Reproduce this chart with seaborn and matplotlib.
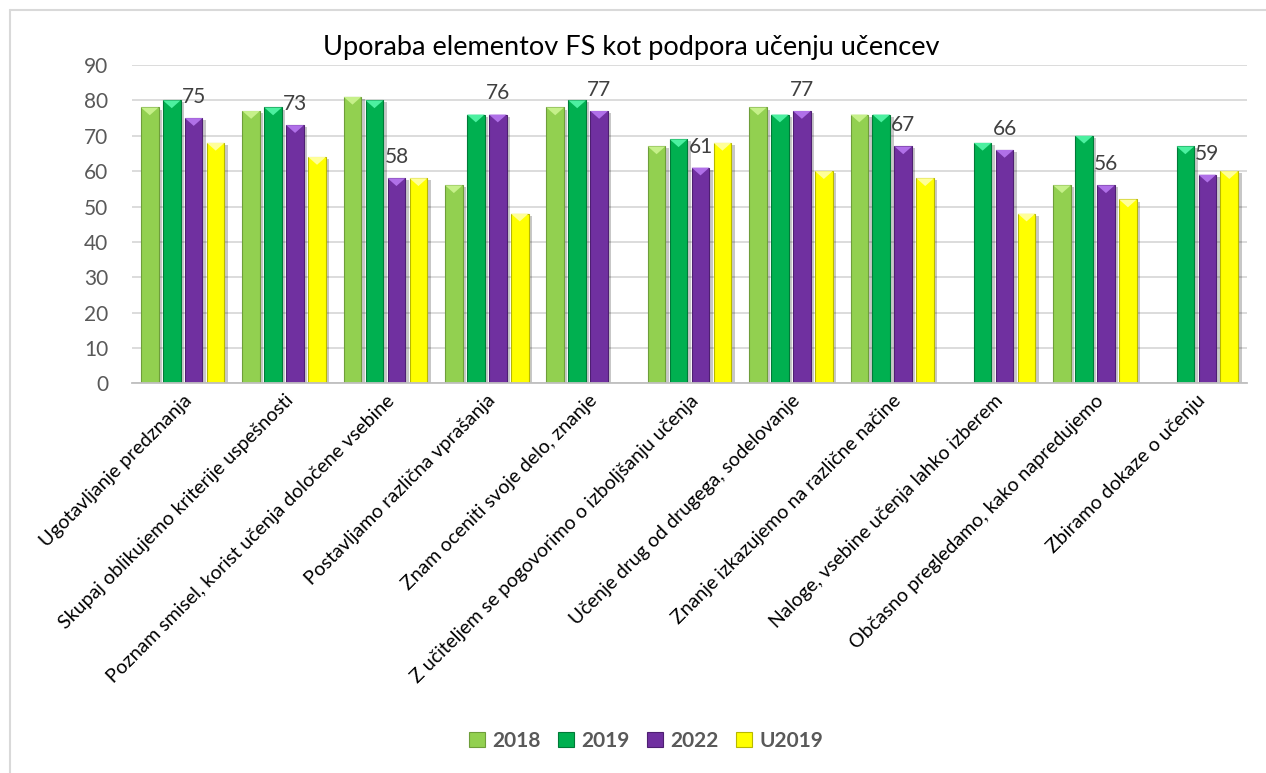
import matplotlib
matplotlib.use("Agg")
import matplotlib.pyplot as plt
import matplotlib.patheffects as pe
import numpy as np
import pandas as pd
import seaborn as sns

categories = [
    "Ugotavljanje predznanja",
    "Skupaj oblikujemo kriterije uspešnosti",
    "Poznam smisel, korist učenja določene vsebine",
    "Postavljamo različna vprašanja",
    "Znam oceniti svoje delo, znanje",
    "Z učiteljem se pogovorimo o izboljšanju učenja",
    "Učenje drug od drugega, sodelovanje",
    "Znanje izkazujemo na različne načine",
    "Naloge, vsebine učenja lahko izberem",
    "Občasno pregledamo, kako napredujemo",
    "Zbiramo dokaze o učenju",
]
series = ["2018", "2019", "2022", "U2019"]
v2018 = [78, 77, 81, 56, 78, 67, 78, 76, np.nan, 56, np.nan]
v2019 = [80, 78, 80, 76, 80, 69, 76, 76, 68, 70, 67]
v2022 = [75, 73, 58, 76, 77, 61, 77, 67, 66, 56, 59]
vU2019 = [68, 64, 58, 48, np.nan, 68, 60, 58, 48, 52, 60]
yticks = [0, 10, 20, 30, 40, 50, 60, 70, 80, 90]
title = "Uporaba elementov FS kot podpora učenju učencev"

colors = ["#92D050", "#00B050", "#7030A0", "#FFFF00"]
edge_colors = ["#6E9E3A", "#007A38", "#4E1F72", "#B8B800"]
light_colors = ["#C6F08A", "#4CF0A0", "#B070E8", "#FFFF99"]

rows = []
for s, vals in zip(series, [v2018, v2019, v2022, vU2019]):
    for c, v in zip(categories, vals):
        rows.append({"cat": c, "series": s, "value": v})
df = pd.DataFrame(rows)

sns.set_theme(style="white")
FONT = ["Lato", "DejaVu Sans"]
plt.rcParams["font.family"] = FONT

fig = plt.figure(figsize=(12.66, 7.73), dpi=100)
ax = fig.add_axes([0.1043, 0.5039, 0.8807, 0.4120])

sns.barplot(data=df, x="cat", y="value", hue="series", order=categories,
            hue_order=series, palette=colors, width=0.867, gap=0.2,
            ax=ax, legend=False, saturation=1, err_kws={"linewidth": 0})

shadow = [pe.SimplePatchShadow(offset=(2.5, -1.5), shadow_rgbFace="#000000", alpha=0.22), pe.Normal()]
for i, cont in enumerate(ax.containers):
    for p in cont.patches:
        p.set_edgecolor(edge_colors[i])
        p.set_linewidth(0.8)
        p.set_path_effects(shadow)
        x0, w, h = p.get_x(), p.get_width(), p.get_height()
        if np.isnan(h) or h == 0:
            continue
        tri = plt.Polygon([[x0, h], [x0 + w, h], [x0 + w / 2, h - 2.2]],
                          closed=True, facecolor=light_colors[i],
                          edgecolor="none", zorder=p.get_zorder() + 0.1)
        ax.add_patch(tri)

# data labels for 2022
ax.bar_label(ax.containers[2], labels=[f"{v:.0f}" for v in v2022], padding=8,
             fontsize=15, color="#404040", family=FONT)

ax.set_ylim(0, 90)
ax.set_xlim(-0.5, len(categories) - 0.5)
ax.set_yticks(yticks)
ax.set_yticklabels([str(t) for t in yticks], fontsize=15, color="#595959")
ax.yaxis.grid(True, color="#D9D9D9", linewidth=1.3)
ax.set_axisbelow(True)
for s in ["top", "right", "left"]:
    ax.spines[s].set_visible(False)
ax.spines["bottom"].set_color("#BFBFBF")
ax.spines["bottom"].set_linewidth(1.3)
ax.tick_params(axis="y", length=0, pad=17)
ax.set_xlabel("")
ax.set_ylabel("")
ax.set_xticks(range(len(categories)))
ax.set_xticklabels(categories, rotation=45, ha="right", rotation_mode="anchor",
                   fontsize=14, color="#000000")
ax.tick_params(axis="x", length=0, pad=6)

fig.text(0.4985, 1 - 47 / 773, title, ha="center", va="center", fontsize=19.5,
         color="#000000", family=FONT)

# chart border (partial, as in the reference)
fig.add_artist(plt.Line2D([10 / 1266, 10 / 1266], [0, 1 - 9.5 / 773],
                          transform=fig.transFigure, color="#D9D9D9", linewidth=1.5))
fig.add_artist(plt.Line2D([10 / 1266, 1], [1 - 9.5 / 773, 1 - 9.5 / 773],
                          transform=fig.transFigure, color="#D9D9D9", linewidth=1.5))

handles = [plt.Rectangle((0, 0), 1, 1, facecolor=c, edgecolor=e, linewidth=0.8)
           for c, e in zip(colors, edge_colors)]
leg = fig.legend(handles, series, loc="center", bbox_to_anchor=(646 / 1266, 1 - 741 / 773),
                 ncol=4, frameon=False, handlelength=0.75, handleheight=0.75,
                 handletextpad=0.35, columnspacing=0.85,
                 prop={"family": FONT, "weight": "bold", "size": 15})
for t in leg.get_texts():
    t.set_color("#595959")

fig.savefig("out.png", dpi=100)
